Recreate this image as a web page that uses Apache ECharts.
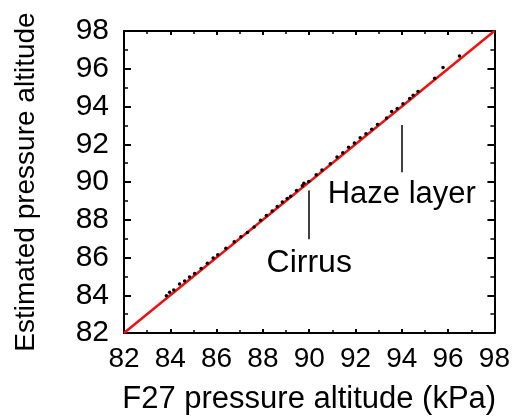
<!DOCTYPE html>
<html>
<head>
<meta charset="utf-8">
<script src="https://cdn.jsdelivr.net/npm/echarts@6/dist/echarts.min.js"></script>
<style>
html,body{margin:0;padding:0;background:#fff;}
#chart{width:513px;height:420px;}
</style>
</head>
<body>
<div id="chart"></div>
<script>
// ---- data ----
const axisMin = 82;
const axisMax = 98;
const axisInterval = 2;
const xAxisTitle = 'F27 pressure altitude (kPa)';
const yAxisTitle = 'Estimated pressure altitude';

// 1:1 reference line
const refLineX = [82, 98];
const refLineY = [82, 98];

// F27 vs estimated pressure altitude samples
const f27Pressure = [83.83, 83.97, 84.15, 84.4, 84.62, 84.83, 85.05, 85.33, 85.6, 85.85,
  86.05, 86.4, 86.76, 87.05, 87.33, 87.62, 87.9, 88.15, 88.4, 88.62,
  88.84, 89.05, 89.2, 89.45, 89.7, 89.77, 89.98, 90.3, 90.55, 90.91,
  91.2, 91.45, 91.7, 91.95, 92.2, 92.45, 92.7, 92.95, 93.34, 93.56,
  93.8, 94.05, 94.34, 94.49, 94.7, 95.42, 95.78, 96.49];
const estPressure = [83.98, 84.16, 84.28, 84.59, 84.75, 84.97, 85.15, 85.42, 85.7, 85.98,
  86.14, 86.49, 86.83, 87.1, 87.32, 87.61, 87.98, 88.22, 88.47, 88.7,
  88.94, 89.12, 89.25, 89.55, 89.8, 89.94, 90.02, 90.38, 90.63, 90.97,
  91.32, 91.55, 91.84, 92.06, 92.35, 92.55, 92.79, 93.05, 93.39, 93.74,
  93.9, 94.15, 94.43, 94.6, 94.8, 95.5, 96.07, 96.67];

// annotations: label, pointer x, pointer y top, pointer y bottom, label x, label y
const annoLabels = ['Cirrus', 'Haze layer'];
const annoLineX = [90, 94];
const annoLineTop = [89.55, 93.02];
const annoLineBottom = [86.97, 90.52];
const annoTextX = [90, 94];
const annoTextY = [85.72, 89.35];
const annoFontSize = [32, 31];

// ---- chart ----
const font = '"Liberation Sans", Arial, Helvetica, sans-serif';
const chart = echarts.init(document.getElementById('chart'), null, {renderer: 'canvas'});

function baseAxis(extra) {
  return Object.assign({
    type: 'value', min: axisMin, max: axisMax, interval: axisInterval,
    splitLine: {show: false},
    axisLine: {show: true, onZero: false, lineStyle: {color: '#000', width: 2}},
    minorTick: {show: true, splitNumber: 2, length: 3, lineStyle: {color: '#000', width: 1.5}},
    minorSplitLine: {show: false}
  }, extra);
}

const scatterData = f27Pressure.map((x, i) => [x, estPressure[i]]);
const refData = refLineX.map((x, i) => [x, refLineY[i]]);
const markLines = annoLabels.map((l, i) => [
  {coord: [annoLineX[i], annoLineTop[i]]},
  {coord: [annoLineX[i], annoLineBottom[i]]}
]);
const textData = annoLabels.map((l, i) => ({
  name: l, value: [annoTextX[i], annoTextY[i]],
  label: {fontSize: annoFontSize[i]}
}));

chart.setOption({
  animation: false,
  backgroundColor: '#fff',
  grid: {left: 124, right: 16, top: 31, bottom: 80, containLabel: false},
  xAxis: [
    baseAxis({
      position: 'bottom',
      name: xAxisTitle, nameLocation: 'middle', nameGap: 51,
      nameTextStyle: {fontFamily: font, fontSize: 31, color: '#000'},
      axisTick: {show: true, inside: true, length: 4, lineStyle: {color: '#000', width: 2}},
      axisLabel: {show: true, margin: 12, fontFamily: font, fontSize: 28, color: '#000'}
    }),
    baseAxis({
      position: 'top',
      axisTick: {show: true, inside: true, length: 4, lineStyle: {color: '#000', width: 2}},
      axisLabel: {show: false}
    })
  ],
  yAxis: [
    baseAxis({
      position: 'left',
      name: yAxisTitle, nameLocation: 'middle', nameGap: 84, nameRotate: 90,
      nameTextStyle: {fontFamily: font, fontSize: 28, color: '#000'},
      axisTick: {show: true, inside: true, length: 7, lineStyle: {color: '#000', width: 2}},
      minorTick: {show: true, splitNumber: 2, length: 4, lineStyle: {color: '#000', width: 1.5}},
      axisLabel: {show: true, margin: 15, fontFamily: font, fontSize: 30, color: '#000'}
    }),
    baseAxis({
      position: 'right',
      axisTick: {show: true, inside: true, length: 7, lineStyle: {color: '#000', width: 2}},
      minorTick: {show: true, splitNumber: 2, length: 4, lineStyle: {color: '#000', width: 1.5}},
      axisLabel: {show: false}
    })
  ],
  series: [
    {
      type: 'line', data: refData, showSymbol: false, symbol: 'none',
      lineStyle: {color: '#f01010', width: 2.5}, z: 2,
      markLine: {
        silent: true, symbol: ['none', 'none'], label: {show: false},
        lineStyle: {color: '#000', width: 1.5, type: 'solid'},
        data: markLines
      }
    },
    {
      type: 'scatter', data: scatterData, symbol: 'circle', symbolSize: 3.5,
      itemStyle: {color: '#000', opacity: 1}, z: 3
    },
    {
      type: 'scatter', data: textData, symbolSize: 0, z: 4,
      itemStyle: {color: '#000', opacity: 1},
      label: {show: true, position: 'inside', formatter: '{b}', fontFamily: font,
        color: '#000', textBorderWidth: 0, opacity: 1}
    }
  ]
});
</script>
</body>
</html>
